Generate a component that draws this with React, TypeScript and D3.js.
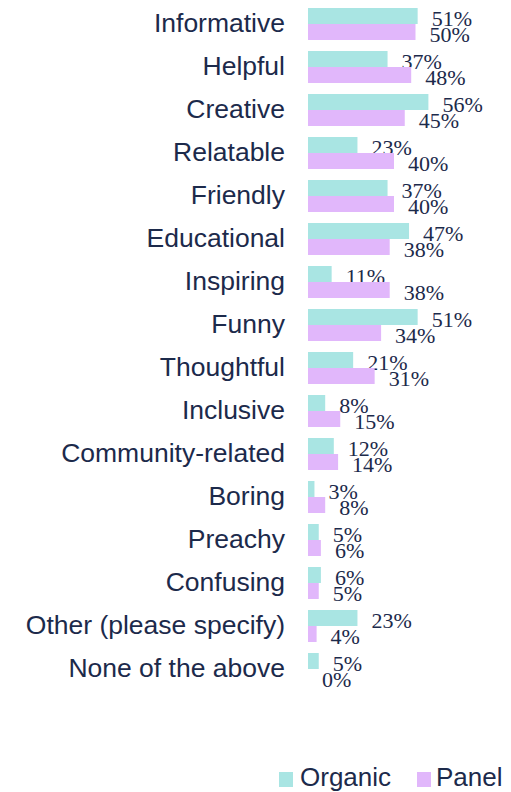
import React from "react";
import * as d3 from "d3";

const categories = [
  "Informative", "Helpful", "Creative", "Relatable", "Friendly", "Educational",
  "Inspiring", "Funny", "Thoughtful", "Inclusive", "Community-related", "Boring",
  "Preachy", "Confusing", "Other (please specify)", "None of the above",
];
const organic = [51, 37, 56, 23, 37, 47, 11, 51, 21, 8, 12, 3, 5, 6, 23, 5];
const panel = [50, 48, 45, 40, 40, 38, 38, 34, 31, 15, 14, 8, 6, 5, 4, 0];
const seriesNames = ["Organic", "Panel"];
const seriesColors = ["#a9e5e3", "#e1b7fb"];
const textColor = "#1c2a4b";

export default function App() {
  const W = 511, H = 792;
  const x = d3.scaleLinear().domain([0, 60]).range([308, 437]);
  const y = d3.scaleBand<string>().domain(categories).range([8, 8 + 43 * (16 - 0.256)]).paddingInner(0.256).paddingOuter(0);
  const sub = d3.scaleBand<string>().domain(seriesNames).range([0, y.bandwidth()]);
  const data = [organic, panel];
  return (
    <svg width={W} height={H} style={{ position: "absolute", left: 0, top: 0 }}>
      {categories.map((c, i) => {
        const y0 = y(c)!;
        return (
          <g key={c}>
            <text x={285} y={y0 + y.bandwidth() / 2 - 1} textAnchor="end" dominantBaseline="central"
              fontFamily="Liberation Sans, Arial, sans-serif" fontSize={26.5} fill={textColor}>{c}</text>
            {seriesNames.map((s, j) => {
              const v = data[j][i];
              const by = y0 + sub(s)!;
              return (
                <g key={s}>
                  <rect x={x(0)} y={by} width={x(v) - x(0)} height={sub.bandwidth()} fill={seriesColors[j]} />
                  <text x={x(v) + 14} y={by + sub.bandwidth() / 2 + 10} fontFamily="Liberation Serif, Times New Roman, serif"
                    fontSize={22} fill={textColor}>{v}%</text>
                </g>
              );
            })}
          </g>
        );
      })}
      <g>
        <rect x={279} y={772} width={14} height={15} fill={seriesColors[0]} />
        <text x={300} y={786} fontFamily="Liberation Sans, Arial, sans-serif" fontSize={26} fill={textColor}>{seriesNames[0]}</text>
        <rect x={417} y={772} width={14} height={15} fill={seriesColors[1]} />
        <text x={436} y={786} fontFamily="Liberation Sans, Arial, sans-serif" fontSize={26} fill={textColor}>{seriesNames[1]}</text>
      </g>
    </svg>
  );
}
